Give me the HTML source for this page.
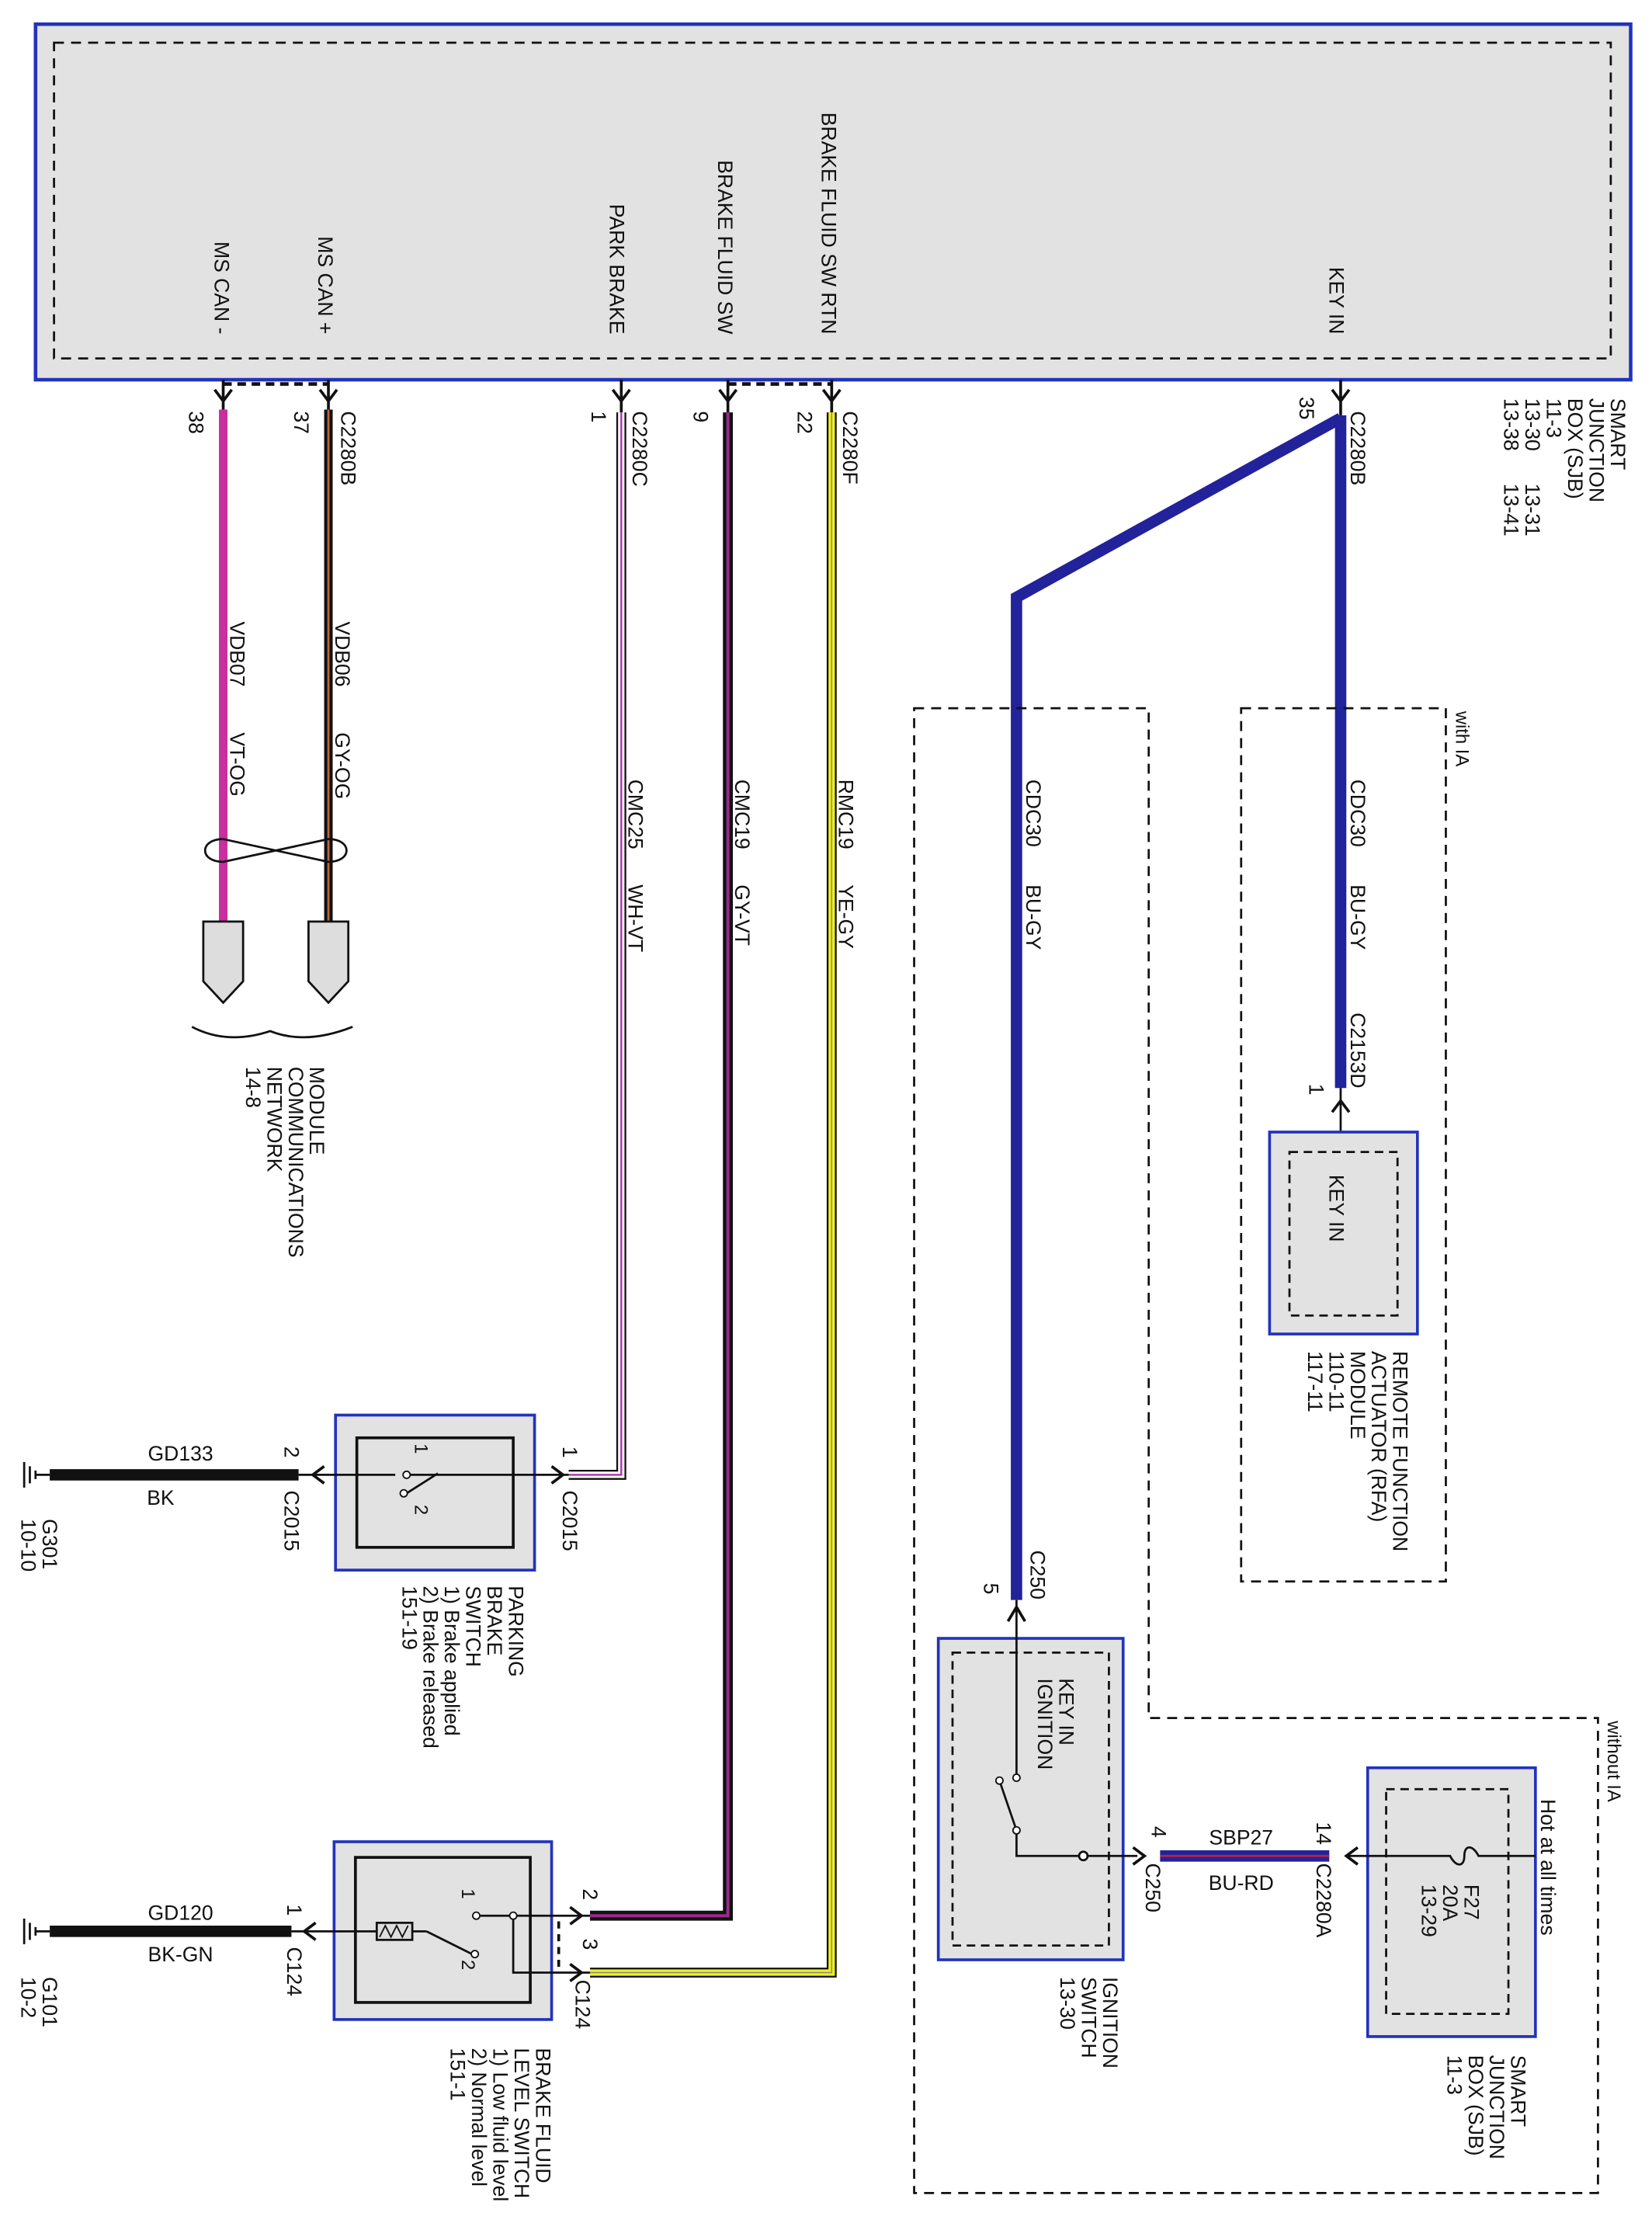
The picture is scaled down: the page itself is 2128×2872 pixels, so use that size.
<!DOCTYPE html>
<html><head><meta charset="utf-8"><style>
html,body{margin:0;padding:0;background:#fff;}
svg{display:block;}
text{font-family:"Liberation Sans",Arial,sans-serif;font-size:14.5px;fill:#111;}
</style></head><body>
<svg width="2128" height="2872" viewBox="0 0 1162 1568" preserveAspectRatio="none" xmlns="http://www.w3.org/2000/svg">
<rect width="1162" height="1568" fill="#fff"/>
<!-- top SJB -->
<rect x="25" y="17" width="1122" height="250" fill="#e2e2e2" stroke="#2233bb" stroke-width="2.5"/>
<rect x="38" y="30" width="1095" height="222" fill="none" stroke="#111" stroke-width="1.5" stroke-dasharray="7,5"/>
<g>
<text transform="translate(151,235) rotate(90)" text-anchor="end">MS CAN -</text>
<text transform="translate(224,235) rotate(90)" text-anchor="end">MS CAN +</text>
<text transform="translate(429,235) rotate(90)" text-anchor="end">PARK BRAKE</text>
<text transform="translate(505,235) rotate(90)" text-anchor="end">BRAKE FLUID SW</text>
<text transform="translate(578,235) rotate(90)" text-anchor="end">BRAKE FLUID SW RTN</text>
<text transform="translate(935,235) rotate(90)" text-anchor="end">KEY IN</text>
</g>
<!-- dashed pin links -->
<line x1="157" y1="270" x2="231" y2="270" stroke="#111" stroke-width="2.5" stroke-dasharray="6,4"/>
<line x1="512" y1="270" x2="585" y2="270" stroke="#111" stroke-width="2.5" stroke-dasharray="6,4"/>
<!-- pin chevrons -->
<g fill="none" stroke="#111" stroke-width="2">
<path d="M151,274 L157,282 L163,274 M157,267 V290"/>
<path d="M225,274 L231,282 L237,274 M231,267 V290"/>
<path d="M431,274 L437,282 L443,274 M437,267 V290"/>
<path d="M506,274 L512,282 L518,274 M512,267 V290"/>
<path d="M579,274 L585,282 L591,274 M585,267 V290"/>
<path d="M937,274 L943,282 L949,274 M943,267 V292"/>
</g>
<!-- wires -->
<line x1="157" y1="288" x2="157" y2="650" stroke="#c8309e" stroke-width="6"/>
<line x1="231" y1="288" x2="231" y2="650" stroke="#111" stroke-width="6"/>
<line x1="231" y1="288" x2="231" y2="650" stroke="#b86a3a" stroke-width="1.5"/>
<path d="M437,290 V1037 H400" fill="none" stroke="#111" stroke-width="7"/>
<path d="M437,290 V1037 H400" fill="none" stroke="#fff" stroke-width="4.5"/>
<path d="M437,290 V1037 H400" fill="none" stroke="#b030b0" stroke-width="1.3"/>
<path d="M512,290 V1347 H415" fill="none" stroke="#111" stroke-width="7"/>
<path d="M512,290 V1347 H415" fill="none" stroke="#9a2a8a" stroke-width="2.2"/>
<path d="M585,290 V1387 H415" fill="none" stroke="#111" stroke-width="7"/>
<path d="M585,290 V1387 H415" fill="none" stroke="#f0f020" stroke-width="4.5"/>
<path d="M585,290 V1387 H415" fill="none" stroke="#888" stroke-width="0.8"/>
<path d="M943,292 V765 M943,294 L715,420 V1125" fill="none" stroke="#22229a" stroke-width="8"/>
<!-- pin labels top -->
<text transform="translate(133,289) rotate(90)">38</text>
<text transform="translate(207,289) rotate(90)">37</text>
<text transform="translate(240,289) rotate(90)">C2280B</text>
<text transform="translate(416,289) rotate(90)">1</text>
<text transform="translate(445,289) rotate(90)">C2280C</text>
<text transform="translate(488,289) rotate(90)">9</text>
<text transform="translate(561,289) rotate(90)">22</text>
<text transform="translate(593,289) rotate(90)">C2280F</text>
<text transform="translate(914,279) rotate(90)">35</text>
<text transform="translate(950,289) rotate(90)">C2280B</text>
<text transform="translate(1133,280) rotate(90)"><tspan x="0">SMART</tspan><tspan x="0" dy="15">JUNCTION</tspan><tspan x="0" dy="15">BOX (SJB)</tspan><tspan x="0" dy="15">11-3</tspan><tspan x="0" dy="15">13-30</tspan><tspan x="60" dy="0">13-31</tspan><tspan x="0" dy="15">13-38</tspan><tspan x="60" dy="0">13-41</tspan></text>
<!-- wire labels -->
<text transform="translate(162,437) rotate(90)">VDB07</text>
<text transform="translate(162,515) rotate(90)">VT-OG</text>
<text transform="translate(236,437) rotate(90)">VDB06</text>
<text transform="translate(236,515) rotate(90)">GY-OG</text>
<text transform="translate(442,548) rotate(90)">CMC25</text>
<text transform="translate(442,622) rotate(90)">WH-VT</text>
<text transform="translate(517,548) rotate(90)">CMC19</text>
<text transform="translate(517,622) rotate(90)">GY-VT</text>
<text transform="translate(590,548) rotate(90)">RMC19</text>
<text transform="translate(590,622) rotate(90)">YE-GY</text>
<text transform="translate(722,548) rotate(90)">CDC30</text>
<text transform="translate(722,622) rotate(90)">BU-GY</text>
<text transform="translate(950,548) rotate(90)">CDC30</text>
<text transform="translate(950,622) rotate(90)">BU-GY</text>
<text transform="translate(950,712) rotate(90)">C2153D</text>
<text transform="translate(921,762) rotate(90)">1</text>
<!-- twist -->
<g fill="none" stroke="#111" stroke-width="1.5">
<path d="M157,590 C140,590 140,606 157,606 L231,590 C248,590 248,606 231,606 L157,590"/>
</g>
<!-- network connectors -->
<path d="M143,648 H171 V690 L157,705 L143,690 Z" fill="#ddd" stroke="#111" stroke-width="1.5"/>
<path d="M217,648 H245 V690 L231,705 L217,690 Z" fill="#ddd" stroke="#111" stroke-width="1.5"/>
<path d="M135,722 Q160,735 190,725 Q215,735 248,722" fill="none" stroke="#111" stroke-width="1.5"/>
<text transform="translate(218,750) rotate(90)"><tspan x="0">MODULE</tspan><tspan x="0" dy="15">COMMUNICATIONS</tspan><tspan x="0" dy="15">NETWORK</tspan><tspan x="0" dy="15">14-8</tspan></text>
<!-- option dashed boxes -->
<rect x="873" y="498" width="144" height="614" fill="none" stroke="#111" stroke-width="1.5" stroke-dasharray="7,5"/>
<text transform="translate(1024,500) rotate(90)" style="font-size:13px">with IA</text>
<path d="M643,498 H808 V1208 H1124 V1542 H643 Z" fill="none" stroke="#111" stroke-width="1.5" stroke-dasharray="7,5"/>
<text transform="translate(1131,1210) rotate(90)" style="font-size:13px">without IA</text>
<!-- RFA -->
<line x1="943" y1="765" x2="943" y2="796" stroke="#111" stroke-width="1.5"/>
<path d="M937,782 L943,774 L949,782" fill="none" stroke="#111" stroke-width="2"/>
<rect x="893" y="796" width="104" height="142" fill="#e2e2e2" stroke="#2233bb" stroke-width="2"/>
<rect x="907" y="810" width="76" height="115" fill="none" stroke="#111" stroke-width="1.5" stroke-dasharray="6,4"/>
<text transform="translate(935,826) rotate(90)">KEY IN</text>
<text transform="translate(980,950) rotate(90)"><tspan x="0">REMOTE FUNCTION</tspan><tspan x="0" dy="15">ACTUATOR (RFA)</tspan><tspan x="0" dy="15">MODULE</tspan><tspan x="0" dy="15">110-11</tspan><tspan x="0" dy="15">117-11</tspan></text>
<!-- ignition switch -->
<text transform="translate(725,1090) rotate(90)">C250</text>
<text transform="translate(692,1113) rotate(90)">5</text>
<rect x="660" y="1152" width="130" height="226" fill="#e2e2e2" stroke="#2233bb" stroke-width="2"/>
<rect x="670" y="1162" width="110" height="206" fill="none" stroke="#111" stroke-width="1.5" stroke-dasharray="6,4"/>
<path d="M709,1140 L715,1130 L721,1140" fill="none" stroke="#111" stroke-width="2"/>
<path d="M715,1125 V1250 M715,1287 V1305 H800" fill="none" stroke="#111" stroke-width="1.5"/>
<line x1="715" y1="1287" x2="703" y2="1252" stroke="#111" stroke-width="1.5"/>
<circle cx="715" cy="1250" r="2.5" fill="#fff" stroke="#111"/>
<circle cx="715" cy="1287" r="2.5" fill="#fff" stroke="#111"/>
<circle cx="703" cy="1252" r="2.5" fill="#fff" stroke="#111"/>
<circle cx="762" cy="1305" r="3" fill="#fff" stroke="#111" stroke-width="1.5"/>
<text transform="translate(745,1180) rotate(90)"><tspan x="0">KEY IN</tspan><tspan x="0" dy="15">IGNITION</tspan></text>
<text transform="translate(776,1390) rotate(90)"><tspan x="0">IGNITION</tspan><tspan x="0" dy="15">SWITCH</tspan><tspan x="0" dy="15">13-30</tspan></text>
<!-- SBP27 -->
<path d="M797,1299 L805,1305 L797,1311" fill="none" stroke="#111" stroke-width="2"/>
<line x1="816" y1="1305" x2="935" y2="1305" stroke="#22229a" stroke-width="8"/>
<line x1="816" y1="1305" x2="935" y2="1305" stroke="#c02040" stroke-width="1.5"/>
<text x="873" y="1297" text-anchor="middle">SBP27</text>
<text x="873" y="1329" text-anchor="middle">BU-RD</text>
<text transform="translate(810,1284) rotate(90)">4</text>
<text transform="translate(806,1310) rotate(90)">C250</text>
<text transform="translate(926,1281) rotate(90)">14</text>
<text transform="translate(926,1310) rotate(90)">C2280A</text>
<path d="M955,1299 L947,1305 L955,1311" fill="none" stroke="#111" stroke-width="2"/>
<!-- SJB fuse -->
<rect x="962" y="1243" width="118" height="189" fill="#e2e2e2" stroke="#2233bb" stroke-width="2"/>
<rect x="975" y="1258" width="86" height="158" fill="none" stroke="#111" stroke-width="1.5" stroke-dasharray="6,4"/>
<path d="M947,1305 H1020 C1024,1313 1030,1313 1030,1305 C1030,1297 1036,1297 1040,1305 H1080" fill="none" stroke="#111" stroke-width="1.5"/>
<text transform="translate(1030,1325) rotate(90)"><tspan x="0">F27</tspan><tspan x="0" dy="15">20A</tspan><tspan x="0" dy="15">13-29</tspan></text>
<text transform="translate(1084,1265) rotate(90)">Hot at all times</text>
<text transform="translate(1063,1445) rotate(90)"><tspan x="0">SMART</tspan><tspan x="0" dy="15">JUNCTION</tspan><tspan x="0" dy="15">BOX (SJB)</tspan><tspan x="0" dy="15">11-3</tspan></text>
<!-- parking brake switch -->
<rect x="236" y="995" width="140" height="109" fill="#e2e2e2" stroke="#2233bb" stroke-width="2"/>
<rect x="251" y="1011" width="110" height="77" fill="none" stroke="#111" stroke-width="2"/>
<line x1="35" y1="1037" x2="210" y2="1037" stroke="#111" stroke-width="8"/>
<path d="M210,1037 H278 M286,1037 H400" stroke="#111" stroke-width="1.5"/>
<line x1="286" y1="1050" x2="308" y2="1036" stroke="#111" stroke-width="1.5"/>
<circle cx="286" cy="1037" r="2.5" fill="#fff" stroke="#111"/>
<circle cx="284" cy="1050" r="2.5" fill="#fff" stroke="#111"/>
<path d="M228,1031 L220,1037 L228,1043" fill="none" stroke="#111" stroke-width="2"/>
<path d="M388,1031 L396,1037 L388,1043" fill="none" stroke="#111" stroke-width="2"/>
<text transform="translate(292,1015) rotate(90)" style="font-size:13px">1</text>
<text transform="translate(292,1058) rotate(90)" style="font-size:13px">2</text>
<text x="127" y="1027" text-anchor="middle">GD133</text>
<text x="113" y="1058" text-anchor="middle">BK</text>
<text transform="translate(200,1017) rotate(90)">2</text>
<text transform="translate(200,1048) rotate(90)">C2015</text>
<text transform="translate(396,1017) rotate(90)">1</text>
<text transform="translate(396,1048) rotate(90)">C2015</text>
<path d="M17,1028 V1046 M21,1031 V1043 M25,1034 V1040 M25,1037 H35" stroke="#111" stroke-width="1.5" fill="none"/>
<text transform="translate(30,1068) rotate(90)"><tspan x="0">G301</tspan><tspan x="0" dy="15">10-10</tspan></text>
<text transform="translate(358,1115) rotate(90)"><tspan x="0">PARKING</tspan><tspan x="0" dy="15">BRAKE</tspan><tspan x="0" dy="15">SWITCH</tspan><tspan x="0" dy="15">1) Brake applied</tspan><tspan x="0" dy="15">2) Brake released</tspan><tspan x="0" dy="15">151-19</tspan></text>
<!-- brake fluid level switch -->
<rect x="235" y="1295" width="153" height="125" fill="#e2e2e2" stroke="#2233bb" stroke-width="2"/>
<rect x="250" y="1306" width="123" height="102" fill="none" stroke="#111" stroke-width="2"/>
<line x1="35" y1="1358" x2="205" y2="1358" stroke="#111" stroke-width="8"/>
<path d="M205,1358 H265 M290,1358 H300" stroke="#111" stroke-width="1.5"/>
<rect x="265" y="1352" width="25" height="12" fill="#ddd" stroke="#111" stroke-width="1.5"/>
<path d="M267,1362 L271,1354 L275,1362 L279,1354 L283,1362 L287,1354" fill="none" stroke="#111" stroke-width="1"/>
<line x1="300" y1="1358" x2="332" y2="1374" stroke="#111" stroke-width="1.5"/>
<circle cx="334" cy="1374" r="2.5" fill="#fff" stroke="#111"/>
<circle cx="335" cy="1347" r="2.5" fill="#fff" stroke="#111"/>
<path d="M338,1347 H415 M361,1347 V1387 H415" fill="none" stroke="#111" stroke-width="1.5"/>
<circle cx="361" cy="1347" r="2.5" fill="#fff" stroke="#111"/>
<line x1="393" y1="1351" x2="393" y2="1383" stroke="#111" stroke-width="2" stroke-dasharray="5,4"/>
<path d="M222,1352 L214,1358 L222,1364" fill="none" stroke="#111" stroke-width="2"/>
<path d="M401,1341 L409,1347 L401,1353 M401,1381 L409,1387 L401,1393" fill="none" stroke="#111" stroke-width="2"/>
<text transform="translate(325,1328) rotate(90)" style="font-size:13px">1</text>
<text transform="translate(325,1378) rotate(90)" style="font-size:13px">2</text>
<text x="127" y="1350" text-anchor="middle">GD120</text>
<text x="127" y="1379" text-anchor="middle">BK-GN</text>
<text transform="translate(202,1339) rotate(90)">1</text>
<text transform="translate(202,1369) rotate(90)">C124</text>
<text transform="translate(410,1328) rotate(90)">2</text>
<text transform="translate(410,1363) rotate(90)">3</text>
<text transform="translate(405,1392) rotate(90)">C124</text>
<path d="M17,1349 V1367 M21,1352 V1364 M25,1355 V1361 M25,1358 H35" stroke="#111" stroke-width="1.5" fill="none"/>
<text transform="translate(30,1390) rotate(90)"><tspan x="0">G101</tspan><tspan x="0" dy="15">10-2</tspan></text>
<text transform="translate(377,1440) rotate(90)"><tspan x="0">BRAKE FLUID</tspan><tspan x="0" dy="15">LEVEL SWITCH</tspan><tspan x="0" dy="15">1) Low fluid level</tspan><tspan x="0" dy="15">2) Normal level</tspan><tspan x="0" dy="15">151-1</tspan></text>
</svg>
</body></html>
